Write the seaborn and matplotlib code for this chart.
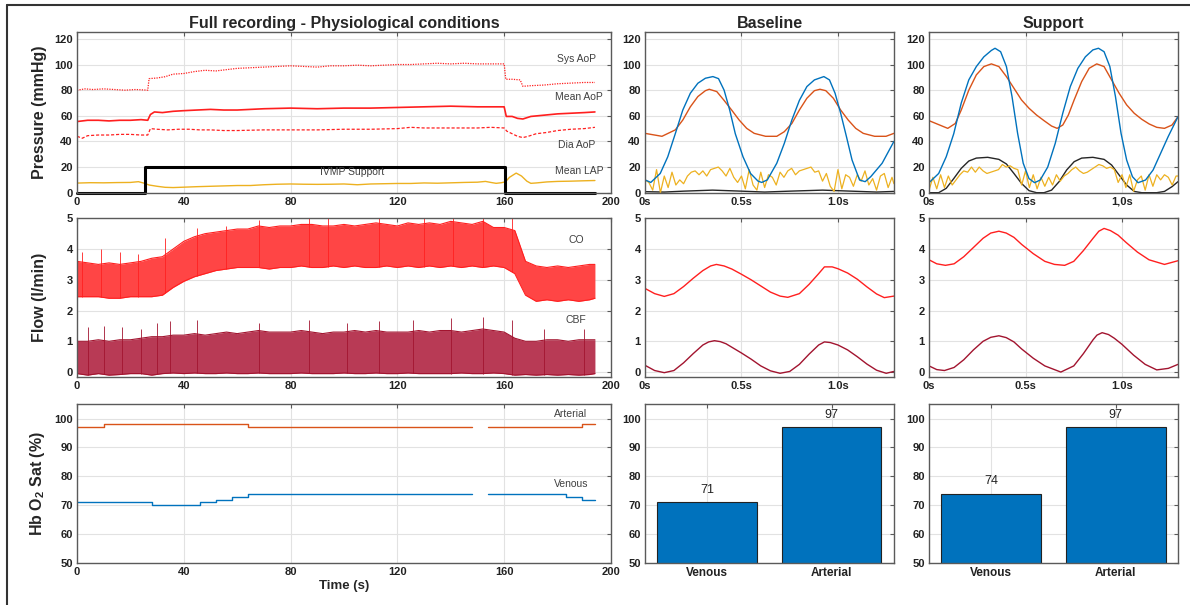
import numpy as np
import matplotlib
matplotlib.use("Agg")
import matplotlib.pyplot as plt
from matplotlib.lines import Line2D
import seaborn as sns

# ---------------- data: full recording (time in s) ----------------
sys_t = [0, 3, 6, 10, 14, 18, 22, 26.5, 27, 30, 33, 36, 40, 44, 48, 52, 56, 60, 65, 70, 75, 80, 85, 90, 95,
         100, 105, 110, 115, 120, 125, 130, 135, 140, 145, 150, 155, 160, 160.6, 163, 166, 167, 170, 175, 180, 185, 190, 194]
sys_v = [80, 81, 80.5, 81, 80.5, 80, 80.5, 80, 89, 89.5, 90.5, 92.5, 93, 94.5, 95.5, 95, 96, 97, 97.5, 98, 98.5, 99, 98.5, 98, 99,
         99, 99.5, 99, 99.5, 100, 100, 100.5, 101, 100.5, 101, 100.5, 100.5, 100.5, 88.5, 88.5, 88, 83, 83.5, 84, 85, 85.5, 86, 86]

mean_t = [0, 4, 8, 12, 16, 20, 24, 26.5, 27.5, 29, 32, 36, 40, 45, 50, 55, 60, 70, 80, 90, 100, 110, 120, 130, 140,
          150, 155, 160, 160.8, 163, 165, 167, 170, 175, 180, 185, 190, 194]
mean_v = [55.5, 56.5, 56.5, 56, 56.5, 56.5, 57, 56.5, 61, 63, 62.5, 63.5, 64, 64.5, 65, 64.5, 64.5, 65.5, 66, 65.5, 66, 66, 66.5, 67, 67.5,
          67, 67, 67, 59.5, 59.5, 58, 57.5, 59.5, 60.5, 61.5, 62, 62.5, 63]

dia_t = [0, 2, 4, 8, 12, 16, 20, 24, 26.5, 27.5, 30, 34, 38, 42, 46, 50, 55, 60, 70, 80, 90, 100, 110, 120, 125, 130,
         140, 150, 155, 160, 161, 163, 165, 167, 169, 172, 176, 180, 185, 190, 194]
dia_v = [44, 42.5, 44.5, 45, 45, 45.5, 45.5, 45, 45, 50, 49.5, 49, 49.5, 49.5, 49, 49, 48.5, 48.5, 49, 49, 49, 49.5, 49.5, 50, 51, 50.5,
         50.5, 50.5, 51, 50.5, 48, 46, 44, 43, 44, 46, 47, 48.5, 49.5, 50, 51]

lap_t = [0, 5, 10, 15, 20, 23, 25, 27, 30, 33, 36, 40, 45, 50, 55, 60, 65, 70, 75, 80, 85, 90, 95, 100, 105, 110, 115,
         120, 125, 130, 135, 140, 145, 150, 153, 155, 157, 159, 160.5, 162, 164.5, 166.5, 168.5, 170, 172, 176, 180, 185, 190, 194]
lap_v = [7.5, 7.8, 7.7, 7.9, 8.0, 8.6, 7.5, 6.0, 5.0, 4.2, 4.0, 4.3, 4.7, 5.0, 5.3, 5.6, 5.6, 6.2, 6.6, 6.8, 6.6, 6.5, 6.6, 6.8, 6.2, 6.8, 7.0,
         7.2, 7.2, 7.6, 7.4, 7.7, 8.0, 8.2, 8.8, 8.0, 7.3, 7.8, 8.5, 12.0, 15.3, 13.0, 9.0, 7.3, 7.6, 8.4, 8.8, 9.0, 9.3, 9.5]

ivmp_t = [0, 25.3, 160.4, 194]
ivmp_v = [0, 20, 0, 0]

# flow envelopes (l/min), sampled every 4 s
flow_t = [0, 4, 8, 12, 16, 20, 24, 28, 32, 36, 40, 44, 48, 52, 56, 60, 64, 68, 72, 76, 80, 84, 88, 92, 96, 100,
          104, 108, 112, 116, 120, 124, 128, 132, 136, 140, 144, 148, 152, 156, 160, 164, 168, 172, 176, 180, 184, 188, 192, 194]
co_hi = [3.6, 3.55, 3.5, 3.55, 3.5, 3.55, 3.6, 3.7, 3.75, 4.0, 4.25, 4.4, 4.5, 4.55, 4.6, 4.65, 4.65, 4.75, 4.7, 4.75, 4.75, 4.8, 4.8, 4.75, 4.75, 4.8,
         4.75, 4.8, 4.85, 4.8, 4.75, 4.85, 4.8, 4.85, 4.8, 4.9, 4.85, 4.8, 4.9, 4.7, 4.7, 4.6, 3.6, 3.45, 3.4, 3.45, 3.4, 3.45, 3.5, 3.5]
co_lo = [2.45, 2.45, 2.45, 2.4, 2.4, 2.45, 2.45, 2.45, 2.5, 2.75, 2.95, 3.1, 3.2, 3.3, 3.35, 3.4, 3.4, 3.4, 3.35, 3.4, 3.4, 3.45, 3.4, 3.4, 3.45, 3.4,
         3.45, 3.4, 3.4, 3.45, 3.4, 3.45, 3.4, 3.45, 3.4, 3.45, 3.4, 3.45, 3.4, 3.45, 3.4, 3.2, 2.5, 2.3, 2.35, 2.3, 2.35, 2.3, 2.35, 2.4]
co_spk_t = [2, 9, 16, 23, 33, 45, 56, 68, 87, 94, 113, 130, 141, 152, 163]
co_spk_v = [3.9, 4.0, 3.9, 3.85, 4.35, 4.7, 4.75, 4.95, 5.0, 5.0, 5.0, 5.0, 5.0, 5.0, 5.0]

cbf_hi = [1.0, 1.0, 1.05, 1.0, 1.05, 1.05, 1.1, 1.15, 1.15, 1.2, 1.2, 1.25, 1.2, 1.25, 1.3, 1.25, 1.3, 1.35, 1.3, 1.3, 1.3, 1.35, 1.3, 1.25, 1.3, 1.3,
          1.35, 1.3, 1.35, 1.3, 1.3, 1.3, 1.35, 1.3, 1.35, 1.35, 1.3, 1.35, 1.4, 1.35, 1.3, 1.1, 1.0, 1.0, 1.05, 1.05, 1.0, 1.05, 1.05, 1.05]
cbf_lo = [-0.05, -0.1, -0.05, -0.1, -0.08, -0.05, -0.05, -0.1, -0.05, -0.03, -0.05, -0.03, -0.05, -0.05, -0.03, -0.05, -0.05, -0.03, -0.05, -0.05, -0.05, -0.03, -0.05, -0.05, -0.05, -0.03,
          -0.05, -0.05, -0.03, -0.05, -0.05, -0.03, -0.05, -0.05, -0.05, -0.05, -0.03, -0.05, -0.05, -0.03, -0.05, -0.1, -0.08, -0.1, -0.08, -0.1, -0.08, -0.1, -0.08, -0.05]
cbf_spk_t = [4, 10, 17, 24, 30, 35, 45, 68, 87, 101, 113, 126, 140, 152, 163, 175, 190]
cbf_spk_v = [1.45, 1.5, 1.45, 1.4, 1.6, 1.65, 1.7, 1.6, 1.7, 1.6, 1.65, 1.7, 1.75, 1.8, 1.7, 1.4, 1.4]

# Hb O2 saturation steps (two segments, gap 148-154 s)
art_t1, art_v1 = [0, 10, 64, 148], [97, 98, 97, 97]
art_t2, art_v2 = [154, 189, 194], [97, 98, 98]
ven_t1, ven_v1 = [0, 28, 46, 52, 58, 64, 148], [71, 70, 71, 72, 73, 74, 74]
ven_t2, ven_v2 = [154, 183, 189, 194], [74, 73, 72, 72]

# ---------------- data: single-beat windows (time in s) ----------------
b_aop_t = [0, 0.03, 0.079, 0.118, 0.157, 0.196, 0.235, 0.274, 0.313, 0.352, 0.381, 0.41, 0.439, 0.468, 0.508, 0.547, 0.586, 0.605,
           0.634, 0.683, 0.722, 0.761, 0.8, 0.839, 0.878, 0.927, 0.956, 0.985, 1.014, 1.044, 1.073, 1.112, 1.141, 1.17, 1.229, 1.29]
b_aop_v = [10, 8, 15, 28, 46, 64.5, 77.6, 85.4, 89.3, 90.6, 89, 80, 64.5, 46, 28, 15, 9, 8,
           10, 23, 38.5, 56.7, 72, 82.8, 88, 90.6, 88, 77.6, 62, 43.7, 25.5, 9.9, 8.6, 12.5, 23, 40]
b_ao_t = [0, 0.088, 0.157, 0.196, 0.235, 0.274, 0.313, 0.333, 0.372, 0.41, 0.449, 0.488, 0.527, 0.566, 0.625, 0.683,
          0.722, 0.761, 0.8, 0.839, 0.878, 0.907, 0.937, 0.976, 1.014, 1.053, 1.092, 1.131, 1.19, 1.249, 1.29]
b_ao_v = [46.3, 44, 49, 56.7, 67, 75, 79.6, 80.7, 78.9, 72, 64.5, 56.7, 50.2, 46.3, 44, 44,
          47.6, 54, 64.5, 73.7, 79.6, 80.7, 79.6, 73.7, 64.5, 56.7, 50.2, 46.3, 44, 44, 46.3]
b_lap_t = [0, 0.02, 0.04, 0.06, 0.08, 0.1, 0.12, 0.14, 0.16, 0.18, 0.2, 0.22, 0.24, 0.26, 0.28, 0.3, 0.32, 0.34, 0.36, 0.38,
           0.4, 0.42, 0.44, 0.46, 0.48, 0.5, 0.52, 0.54, 0.56, 0.58, 0.6, 0.62, 0.64, 0.66, 0.68, 0.7, 0.72, 0.74, 0.76, 0.78,
           0.8, 0.82, 0.84, 0.86, 0.88, 0.9, 0.92, 0.94, 0.96, 0.98, 1.0, 1.02, 1.04, 1.06, 1.08, 1.1, 1.12, 1.14, 1.16, 1.18,
           1.2, 1.22, 1.24, 1.26, 1.28, 1.29]
b_lap_v = [10, 8, 2, 18, 0, 13, 4, 16, 6, 10, 7, 13, 16, 17, 14, 17, 13, 18, 19, 20,
           17, 13, 19, 12, 8, 13, 3, 18, 6, 2, 16, 4, 14, 12, 6, 16, 12, 17, 19, 14,
           17, 18, 19, 20, 16, 17, 9, 15, 5, 1, 18, 3, 14, 12, 5, 14, 9, 17, 6, 11,
           2, 13, 15, 4, 12, 7]
b_lv_t = [0, 0.1, 0.2, 0.35, 0.5, 0.62, 0.75, 0.92, 1.05, 1.2, 1.29]
b_lv_v = [0.8, 0.5, 1.2, 2.0, 1.2, 0.5, 1.2, 2.0, 1.3, 0.5, 1.0]

s_aop_t = [0, 0.05, 0.089, 0.128, 0.167, 0.206, 0.245, 0.284, 0.323, 0.342, 0.371, 0.401, 0.43, 0.459, 0.488, 0.518, 0.547, 0.576,
           0.615, 0.654, 0.693, 0.732, 0.771, 0.81, 0.849, 0.878, 0.907, 0.937, 0.966, 0.995, 1.024, 1.054, 1.083, 1.122, 1.161, 1.2, 1.239, 1.29]
s_aop_v = [7.8, 15, 28, 46, 70, 88, 98.4, 106, 111, 112.7, 110, 98.4, 75, 46.3, 23, 11, 7.8, 9.9,
           20, 38.5, 62, 82.8, 97, 106, 111.4, 112.7, 110, 98.4, 75, 46.3, 25.5, 12.5, 7.8, 9.9, 17.7, 30.7, 43.7, 59.3]
s_ao_t = [0, 0.097, 0.136, 0.167, 0.206, 0.245, 0.284, 0.323, 0.362, 0.401, 0.44, 0.479, 0.518, 0.557, 0.596, 0.635, 0.664,
          0.693, 0.722, 0.752, 0.791, 0.83, 0.869, 0.907, 0.946, 0.985, 1.024, 1.063, 1.102, 1.141, 1.18, 1.22, 1.259, 1.29]
s_ao_v = [56.2, 50.2, 54, 64.5, 80, 91.9, 98.4, 100.5, 98.4, 90.6, 81.5, 72.4, 65.9, 60.6, 56.2, 52, 50.2,
          52.8, 60.6, 72.4, 86.7, 97.1, 100.5, 98.4, 88, 77.6, 68.5, 62, 57.3, 53.6, 51, 50.2, 52.8, 59.3]
s_lap_t = [0, 0.02, 0.04, 0.06, 0.08, 0.1, 0.12, 0.14, 0.16, 0.18, 0.2, 0.22, 0.24, 0.26, 0.28, 0.3, 0.32, 0.34, 0.36, 0.38,
           0.4, 0.42, 0.44, 0.46, 0.48, 0.5, 0.52, 0.54, 0.56, 0.58, 0.6, 0.62, 0.64, 0.66, 0.68, 0.7, 0.72, 0.74, 0.76, 0.78,
           0.8, 0.82, 0.84, 0.86, 0.88, 0.9, 0.92, 0.94, 0.96, 0.98, 1.0, 1.02, 1.04, 1.06, 1.08, 1.1, 1.12, 1.14, 1.16, 1.18,
           1.2, 1.22, 1.24, 1.26, 1.28, 1.29]
s_lap_v = [2, 12, 3, 14, 4, 13, 6, 10, 14, 17, 16, 20, 16, 20, 17, 15, 16, 17, 18, 22,
           20, 21, 19, 18, 6, 17, 4, 14, 3, 12, 5, 12, 6, 14, 9, 13, 15, 18, 20, 17,
           15, 16, 18, 20, 22, 21, 19, 20, 18, 8, 14, 4, 14, 1, 10, 13, 2, 14, 5, 14,
           10, 14, 12, 6, 13, 13]
s_lv_t = [0, 0.05, 0.089, 0.128, 0.167, 0.206, 0.245, 0.304, 0.362, 0.401, 0.44, 0.479, 0.518, 0.557, 0.596, 0.635, 0.674,
          0.713, 0.752, 0.791, 0.849, 0.907, 0.946, 0.985, 1.024, 1.063, 1.102, 1.18, 1.22, 1.259, 1.29]
s_lv_v = [0, 0, 3.4, 11, 19, 24.7, 27, 27.6, 26, 22.4, 15, 7.3, 1.6, 0, 0, 2, 8.6,
          17.7, 24.2, 27, 27.6, 26, 21.6, 13.8, 6, 1, 0, 0, 1, 4.7, 8.6]

b_co_t = [0, 0.05, 0.1, 0.15, 0.2, 0.25, 0.3, 0.34, 0.37, 0.41, 0.45, 0.5, 0.55, 0.6, 0.65, 0.7, 0.74, 0.8, 0.85, 0.9, 0.93, 0.97,
          1.0, 1.05, 1.1, 1.15, 1.2, 1.24, 1.29]
b_co_v = [2.72, 2.55, 2.46, 2.55, 2.78, 3.05, 3.3, 3.45, 3.5, 3.45, 3.35, 3.18, 3.0, 2.8, 2.6, 2.47, 2.43, 2.55, 2.85, 3.2, 3.42, 3.42,
          3.36, 3.22, 3.02, 2.77, 2.54, 2.42, 2.47]
b_cbf_t = [0, 0.05, 0.1, 0.15, 0.2, 0.25, 0.3, 0.33, 0.36, 0.39, 0.42, 0.5, 0.55, 0.6, 0.65, 0.7, 0.75, 0.8, 0.85, 0.9, 0.93, 0.96,
           1.0, 1.05, 1.1, 1.15, 1.2, 1.25, 1.29]
b_cbf_v = [0.22, 0.05, -0.02, 0.05, 0.3, 0.6, 0.88, 0.98, 1.02, 0.99, 0.92, 0.62, 0.42, 0.2, 0.04, -0.04, 0.02, 0.25, 0.58, 0.88, 0.98, 0.96,
           0.88, 0.72, 0.5, 0.26, 0.06, -0.04, 0.02]

s_co_t = [0, 0.04, 0.085, 0.13, 0.18, 0.23, 0.28, 0.32, 0.362, 0.4, 0.44, 0.48, 0.54, 0.6, 0.65, 0.703, 0.75, 0.8, 0.85, 0.88,
          0.907, 0.94, 0.98, 1.02, 1.08, 1.14, 1.22, 1.29]
s_co_v = [3.65, 3.52, 3.47, 3.52, 3.75, 4.05, 4.35, 4.52, 4.58, 4.52, 4.38, 4.15, 3.85, 3.6, 3.5, 3.47, 3.6, 3.95, 4.35, 4.58,
          4.67, 4.6, 4.45, 4.22, 3.9, 3.65, 3.5, 3.62]
s_cbf_t = [0, 0.04, 0.08, 0.13, 0.18, 0.23, 0.28, 0.32, 0.362, 0.4, 0.44, 0.48, 0.54, 0.6, 0.683, 0.75, 0.8, 0.85, 0.87,
           0.897, 0.93, 0.96, 1.0, 1.06, 1.12, 1.18, 1.24, 1.29]
s_cbf_v = [0.2, 0.08, 0.05, 0.15, 0.4, 0.72, 1.0, 1.13, 1.18, 1.12, 0.98, 0.75, 0.45, 0.2, 0.0, 0.2, 0.6, 1.05, 1.2,
           1.28, 1.22, 1.1, 0.9, 0.55, 0.25, 0.07, 0.12, 0.25]

# bars
sat_cats = ["Venous", "Arterial"]
base_sat = [71, 97]
supp_sat = [74, 97]

# ---------------- style ----------------
sns.set_theme(style="whitegrid")
plt.rcParams['font.family'] = ['Liberation Sans', 'DejaVu Sans']
plt.rcParams['mathtext.fontset'] = 'custom'
plt.rcParams['mathtext.rm'] = 'Liberation Sans'
plt.rcParams['mathtext.bf'] = 'Liberation Sans:bold'

C_RED = '#ff1f1f'
C_CBF = '#a2142f'
C_BLUE = '#0072bd'
C_ORANGE = '#d95319'
C_YEL = '#edb120'
C_TXT = '#404040'

fig = plt.figure(figsize=(11.9, 6.05), dpi=100)

colx = [(0.0647, 0.4487), (0.5420, 0.2092), (0.7807, 0.2092)]
rowy = [(0.6815, 0.2648), (0.3774, 0.2618), (0.0689, 0.2633)]
axs = [[fig.add_axes([cx, ry, cw, rh]) for (cx, cw) in colx] for (ry, rh) in rowy]


def style(ax, xgrid=True):
    ax.set_facecolor('white')
    for s in ax.spines.values():
        s.set_color('#5a5a5a')
        s.set_linewidth(1.0)
    ax.grid(True, axis='y', color='#e2e2e2', lw=0.8)
    ax.grid(xgrid, axis='x', color='#e2e2e2', lw=0.8)
    ax.tick_params(direction='in', length=3, width=0.8, color='#5a5a5a',
                   top=True, right=True, labelsize=8, pad=3, labelcolor='#222222')
    for lab in ax.get_xticklabels() + ax.get_yticklabels():
        lab.set_fontweight('bold')
    ax.set_xlabel('')
    ax.set_ylabel('')


def lp(ax, x, y, color, lw=1.0, ls='-', **kw):
    sns.lineplot(x=x, y=y, ax=ax, color=color, lw=lw, linestyle=ls, estimator=None, sort=False, **kw)


def note(ax, x, y, s):
    ax.text(x, y, s, ha='center', va='center', fontsize=7.5, color=C_TXT)


def ylab(ax, s):
    ax.set_ylabel(s, fontsize=11.5, fontweight='bold')
    ax.yaxis.set_label_coords(-0.057, 0.5)


# ---- full recording: pressure ----
ax = axs[0][0]
lp(ax, sys_t, sys_v, C_RED, lw=0.9, ls=(0, (1, 1)))
lp(ax, mean_t, mean_v, C_RED, lw=1.2)
lp(ax, dia_t, dia_v, C_RED, lw=0.9, ls=(0, (2.5, 1.5)))
lp(ax, lap_t, lap_v, C_YEL, lw=1.0)
lp(ax, ivmp_t, ivmp_v, 'black', lw=2.2, drawstyle='steps-post', clip_on=False)
ax.set_xlim(0, 200)
ax.set_ylim(0, 125)
ax.set_xticks([0, 40, 80, 120, 160, 200])
ax.set_yticks([0, 20, 40, 60, 80, 100, 120])
note(ax, 187, 104, 'Sys AoP')
note(ax, 188, 75, 'Mean AoP')
note(ax, 187, 37, 'Dia AoP')
note(ax, 188, 17, 'Mean LAP')
note(ax, 103, 16, 'IVMP Support')
style(ax)
ax.set_title('Full recording - Physiological conditions', fontsize=11.5, fontweight='bold', pad=3)
ylab(ax, 'Pressure (mmHg)')

# ---- full recording: flow ----
ax = axs[1][0]
ax.fill_between(flow_t, co_lo, co_hi, color='#ff4545', lw=0)
lp(ax, flow_t, co_hi, C_RED, lw=0.8)
lp(ax, flow_t, co_lo, C_RED, lw=0.8)
ax.vlines(co_spk_t, np.interp(co_spk_t, flow_t, co_lo), co_spk_v, color=C_RED, lw=0.6)
ax.fill_between(flow_t, cbf_lo, cbf_hi, color='#b83a55', lw=0)
lp(ax, flow_t, cbf_hi, C_CBF, lw=0.8)
lp(ax, flow_t, cbf_lo, C_CBF, lw=0.8)
ax.vlines(cbf_spk_t, np.interp(cbf_spk_t, flow_t, cbf_lo), cbf_spk_v, color=C_CBF, lw=0.6)
ax.set_xlim(0, 200)
ax.set_ylim(-0.15, 5)
ax.set_xticks([0, 40, 80, 120, 160, 200])
ax.set_yticks([0, 1, 2, 3, 4, 5])
note(ax, 187, 4.3, 'CO')
note(ax, 187, 1.7, 'CBF')
style(ax)
ylab(ax, 'Flow (l/min)')

# ---- full recording: saturation ----
ax = axs[2][0]
for (xt, yv, c) in [(art_t1, art_v1, C_ORANGE), (art_t2, art_v2, C_ORANGE),
                    (ven_t1, ven_v1, C_BLUE), (ven_t2, ven_v2, C_BLUE)]:
    lp(ax, xt, yv, c, lw=1.0, drawstyle='steps-post')
ax.set_xlim(0, 200)
ax.set_ylim(50, 105)
ax.set_xticks([0, 40, 80, 120, 160, 200])
ax.set_yticks([50, 60, 70, 80, 90, 100])
note(ax, 185, 101.7, 'Arterial')
note(ax, 185, 77.4, 'Venous')
style(ax)
ylab(ax, r'Hb O$_\mathbf{2}$ Sat (%)')
ax.set_xlabel('Time (s)', fontsize=9.5, fontweight='bold', labelpad=2)

# ---- beat windows ----
for col, (aop_t, aop_v, ao_t, ao_v, lap_tt, lap_vv, lv_t, lv_v, co_t, co_v, cbf_t, cbf_v, title, onelab) in enumerate([
        (b_aop_t, b_aop_v, b_ao_t, b_ao_v, b_lap_t, b_lap_v, b_lv_t, b_lv_v, b_co_t, b_co_v, b_cbf_t, b_cbf_v, 'Baseline', '1.0s'),
        (s_aop_t, s_aop_v, s_ao_t, s_ao_v, s_lap_t, s_lap_v, s_lv_t, s_lv_v, s_co_t, s_co_v, s_cbf_t, s_cbf_v, 'Support', '1,0s')], start=1):
    ax = axs[0][col]
    lp(ax, lv_t, lv_v, '#262626', lw=1.0)
    lp(ax, lap_tt, lap_vv, C_YEL, lw=0.9)
    lp(ax, ao_t, ao_v, C_ORANGE, lw=1.0)
    lp(ax, aop_t, aop_v, C_BLUE, lw=1.0)
    ax.set_xlim(0, 1.29)
    ax.set_ylim(0, 125)
    ax.set_xticks([0, 0.5, 1.0])
    ax.set_xticklabels(['0s', '0.5s', onelab])
    ax.set_yticks([0, 20, 40, 60, 80, 100, 120])
    style(ax)
    ax.set_title(title, fontsize=11.5, fontweight='bold', pad=3)

    ax = axs[1][col]
    lp(ax, co_t, co_v, C_RED, lw=1.0)
    lp(ax, cbf_t, cbf_v, C_CBF, lw=1.0)
    ax.set_xlim(0, 1.29)
    ax.set_ylim(-0.15, 5)
    ax.set_xticks([0, 0.5, 1.0])
    ax.set_xticklabels(['0s', '0.5s', '1.0s'])
    ax.set_yticks([0, 1, 2, 3, 4, 5])
    style(ax)

# ---- bars ----
for col, vals in [(1, base_sat), (2, supp_sat)]:
    ax = axs[2][col]
    sns.barplot(x=sat_cats, y=vals, ax=ax, color=C_BLUE, saturation=1, width=0.8,
                edgecolor='#222222', linewidth=0.8)
    for i, v in enumerate(vals):
        ax.text(i, v + 4.3, str(v), ha='center', va='center', fontsize=9, color='#222222')
    ax.set_xlim(-0.5, 1.5)
    ax.set_ylim(50, 105)
    ax.set_yticks([50, 60, 70, 80, 90, 100])
    style(ax, xgrid=False)
    ax.tick_params(axis='x', labelsize=8.5)

# figure frame (cropped at right/bottom)
fig.add_artist(Line2D([0.0059, 1.0], [0.9917, 0.9917], color='#333333', lw=1.5))
fig.add_artist(Line2D([0.0059, 0.0059], [0.0, 0.9917], color='#333333', lw=1.5))

fig.savefig('out.png', dpi=100, facecolor='white')
